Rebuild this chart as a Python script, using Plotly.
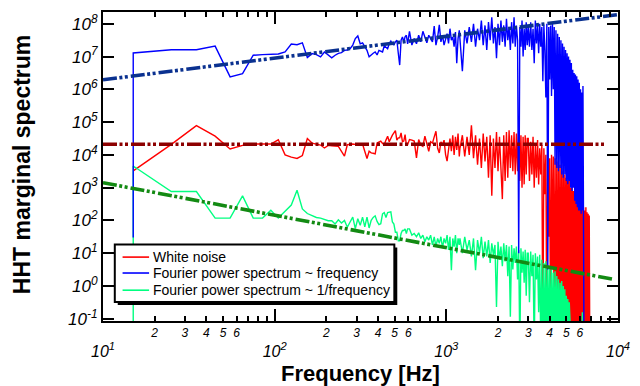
import plotly.graph_objects as go

# ---------------- data ----------------
# frequency grid (Hz) of the HHT marginal spectra
freq_hz = ([15] + list(range(15, 600, 10)) + list(range(610, 1200, 20))
           + list(range(1200, 3000, 40)) + list(range(3000, 7000, 50)))

# log10 of the marginal spectrum
white_noise_log10 = [
    3.51,
    # 15 .. 595 Hz
    3.51, 4.32, 4.89, 4.57, 4.18, 4.29, 4.33, 4.33, 4.33, 4.46,
    4.00, 3.93, 3.89, 3.98, 4.50, 4.36, 4.33, 4.30, 4.21, 4.29,
    4.28, 4.27, 4.26, 4.11, 3.96, 4.31, 4.33, 4.33, 4.32, 4.31,
    4.32, 4.33, 4.06, 3.89, 4.11, 4.06, 4.05, 4.03, 4.36, 4.40,
    4.42, 4.35, 4.31, 4.45, 4.57, 4.40, 4.52, 4.60, 4.67, 4.74,
    4.45, 4.52, 4.52, 4.67, 4.40, 4.42, 4.62, 4.30, 4.31,
    # 610 .. 1190 Hz
    4.47, 4.45, 4.42, 3.91, 4.47, 4.30, 4.26, 4.57, 4.30, 4.11,
    4.40, 4.36, 4.55, 4.72, 4.20, 4.06, 4.40, 4.31, 4.45, 4.01,
    3.81, 4.26, 4.50, 4.11, 4.60, 4.00, 4.55, 4.15, 4.65, 3.95,
    # 1200 .. 2960 Hz
    4.20, 4.60, 3.95, 4.55, 4.00, 4.90, 3.90, 4.60, 3.70, 4.50,
    3.60, 4.65, 3.80, 4.55, 3.30, 4.60, 2.75, 4.50, 3.60, 4.70,
    3.50, 4.55, 3.40, 2.65, 4.60, 3.20, 4.70, 3.30, 4.75, 3.60,
    4.60, 3.50, 4.70, 3.40, 4.65, 3.50, 4.75, 3.20, 4.60, 3.00,
    4.55, 3.10, 4.60, 3.40, 4.50,
    # 3000 .. 6850 Hz
    4.50, 3.20, 4.40, 3.40, 4.55, 3.00, 4.30, 3.30, 4.45, 3.10,
    4.20, 3.40, 4.30, -2.0, 4.20, 2.80, 4.00, -2.0, 4.10, 1.50,
    3.90, -2.0, 4.00, 0.50, 3.95, -2.0, 3.90, -2.0, 3.80, -2.0,
    3.85, -2.0, 3.70, -2.0, 3.60, -2.0, 3.50, -2.0, 3.40, -2.0,
    3.30, -2.0, 3.20, -2.0, 3.20, -2.0, 3.00, -2.0, 3.10, -2.0,
    2.90, -2.0, 2.95, -2.0, 2.80, -2.0, 2.90, -2.0, 2.70, -2.0,
    2.60, -2.0, 2.75, -2.0, 2.50, -2.0, 2.40, -2.0, 2.30, -2.0,
    2.40, -2.0, 2.25, -2.0, 2.20, -2.0, 2.15, -2.0,
]

fourier_freq_log10 = [
    1.48,
    # 15 .. 595 Hz
    7.11, 7.21, 7.21, 7.32, 6.38, 6.48, 7.04, 7.06, 7.07, 7.08,
    7.14, 7.38, 7.36, 7.42, 6.97, 7.09, 7.06, 6.99, 7.14, 7.06,
    6.96, 7.04, 7.10, 7.12, 7.19, 7.20, 7.24, 7.35, 7.55, 7.63,
    7.39, 7.42, 7.30, 7.19, 6.99, 7.06, 7.10, 7.14, 7.05, 7.19,
    7.16, 7.14, 7.33, 7.27, 7.24, 7.40, 7.47, 7.38, 7.36, 7.45,
    7.50, 7.10, 6.74, 7.50, 7.60, 7.45, 7.60, 7.65, 7.39,
    # 610 .. 1190 Hz
    7.77, 7.35, 7.55, 7.39, 7.65, 7.45, 7.77, 7.55, 7.42, 7.65,
    7.53, 7.45, 7.93, 7.35, 7.60, 7.97, 7.45, 7.65, 7.35, 7.55,
    7.70, 7.40, 7.85, 7.50, 7.60, 7.30, 7.75, 6.80, 7.55, 7.80,
    # 1200 .. 2960 Hz
    7.50, 6.55, 7.80, 7.40, 7.90, 7.45, 8.00, 7.30, 7.85, 7.50,
    8.10, 7.35, 7.95, 7.20, 8.05, 7.50, 8.20, 7.40, 7.90, 6.95,
    8.00, 7.35, 8.10, 7.45, 7.95, 7.30, 8.15, 7.50, 7.90, 7.20,
    8.05, 7.40, 8.20, 7.30, 7.95, 7.50, 1.00, 7.90, 7.30, 8.10,
    7.00, 7.85, 7.20, 8.05, 7.35,
    # 3000 .. 6350 Hz
    7.90, 7.30, 8.05, 7.20, 7.85, 6.80, 8.10, 7.40, 7.95, 7.10,
    8.00, 7.30, 7.90, 6.25, 7.95, 7.20, 5.75, 8.00, 0.50, 7.90,
    6.30, 7.95, 5.80, 8.05, 6.00, 7.90, 3.70, 7.80, 3.60, 7.70,
    3.50, 7.60, 3.60, 7.50, 3.40, 7.40, 3.30, 7.30, 3.40, 7.20,
    3.20, 7.10, 3.10, 7.00, 3.20, 6.90, 3.00, 6.80, 2.90, 6.60,
    3.00, 6.50, 2.60, 6.45, 2.50, 6.40, 2.40, 6.30, 2.30, 6.20,
    2.30, 6.00, 2.20, 5.90, 2.30, 6.10, 2.20, -3.0,
]

fourier_inv_log10 = [
    -3.0,
    # 15 .. 595 Hz
    3.66, 2.88, 2.88, 2.07, 2.07, 2.75, 2.07, 2.07, 2.31, 2.07,
    2.28, 2.47, 2.92, 2.35, 2.21, 2.14, 2.09, 2.07, 2.04, 1.99,
    1.99, 1.89, 2.02, 1.92, 2.00, 1.79, 1.95, 2.10, 1.75, 2.05,
    1.85, 2.10, 1.80, 2.10, 1.77, 2.00, 2.09, 2.14, 1.97, 1.87,
    1.90, 2.20, 2.24, 2.09, 2.24, 2.24, 2.26, 1.95, 1.89, 1.64,
    1.64, 1.38, 1.38, 1.60, 1.69, 1.69, 1.74, 1.60, 1.74,
    # 610 .. 1190 Hz
    1.74, 1.55, 1.60, 1.50, 1.62, 1.45, 1.55, 1.35, 1.50, 1.40,
    1.55, 1.25, 1.50, 1.20, 1.45, 1.30, 1.50, 1.15, 1.45, 1.30,
    1.55, 1.10, 1.50, 0.48, 1.45, 1.20, 1.55, 1.00, 1.45, 1.25,
    # 1200 .. 2960 Hz
    1.45, 1.00, 1.50, 1.10, 1.40, 0.90, 1.45, 0.48, 1.40, 1.00,
    1.50, 0.85, 1.35, 0.90, 1.40, 0.70, 1.30, 0.95, 1.25, -0.64,
    1.35, 0.80, 1.20, 0.60, 1.30, 0.75, 1.25, 0.30, 1.20, -0.94,
    1.25, 0.50, 1.15, 0.70, 1.20, 0.20, 1.10, -2.0, 1.15, 0.40,
    1.05, 0.10, 1.10, -0.30, 1.00,
    # 3000 .. 6250 Hz
    1.00, -0.50, 1.05, 0.30, 0.95, -2.0, 1.00, 0.20, 0.90, -0.80,
    0.95, -2.0, 0.80, -2.0, 0.70, -2.0, 0.75, -2.0, 0.60, -2.0,
    0.55, -2.0, 0.50, -2.0, 0.40, -2.0, 0.45, -2.0, 0.30, -2.0,
    0.20, -2.0, 0.10, -2.0, 0.15, -2.0, 0.00, -2.0, -0.10, -2.0,
    -0.30, -2.0, -0.40, -2.0, -0.50, -2.0, -2.0, -2.0, -2.0, -2.0,
    -2.0, -2.0, -2.0, -2.0, -2.0, -2.0, -2.0, -2.0, -2.0, -2.0,
    -2.0, -2.0, -2.0, -2.0, -0.80, -2.0,
]

# power-law fit lines (end points)
fit_white_freq = [10, 8400]
fit_white_vals = [2.1e4, 2.1e4]
fit_freq_freq = [10, 10000]
fit_freq_vals = [1.95e6, 1.9e8]
fit_inv_freq = [10, 9340]
fit_inv_vals = [1.41e3, 1.6]

series_names = ["White noise", "Fourier power spectrum ~ frequency",
                "Fourier power spectrum ~ 1/frequency"]
series_colors = ["#ff0000", "#0000ff", "#00ff80"]
fit_colors = ["#8c0000", "#0a3190", "#138a13"]

x_label_ticks = [m * d for d in (10, 100, 1000) for m in range(2, 7)]
x_label_text = [str(m) for d in (10, 100, 1000) for m in range(2, 7)]
x_unlabeled_ticks = [m * d for d in (10, 100, 1000) for m in range(7, 10)]
x_major_ticks = [10, 100, 1000, 10000]
x_major_text = ["10<sup>1</sup>", "10<sup>2</sup>", "10<sup>3</sup>", "10<sup>4</sup>"]
y_ticks = [10.0 ** k for k in range(-1, 9)]
y_text = ["10<sup>%d</sup>" % k for k in range(-1, 9)]

FONT = "Arial, Liberation Sans, Helvetica, sans-serif"

fig = go.Figure()

# draw order: red, green, blue
draw = [(0, white_noise_log10), (2, fourier_inv_log10), (1, fourier_freq_log10)]
for idx, vals in draw:
    fig.add_trace(go.Scatter(
        x=freq_hz[:len(vals)], y=[10.0 ** v for v in vals],
        mode="lines", name=series_names[idx], showlegend=False,
        line=dict(color=series_colors[idx], width=1.4),
        xaxis="x", yaxis="y",
    ))

dash = "14px,2.5px,3px,2.5px,3px,3px"
for fx, fy, col in [(fit_white_freq, fit_white_vals, fit_colors[0]),
                    (fit_freq_freq, fit_freq_vals, fit_colors[1]),
                    (fit_inv_freq, fit_inv_vals, fit_colors[2])]:
    fig.add_trace(go.Scatter(
        x=fx, y=fy, mode="lines", showlegend=False,
        line=dict(color=col, width=3.6, dash=dash),
        xaxis="x2", yaxis="y",
    ))

axis_common = dict(showgrid=False, zeroline=False, showline=True, linecolor="black",
                   linewidth=2, ticks="inside", tickcolor="black", mirror="ticks",
                   ticklabeloverflow="allow")

# hand-drawn legend box (paper coordinates), with a drop shadow
leg_x0, leg_x1, leg_y0, leg_y1 = 0.0229, 0.5657, 0.0611, 0.2476
sh_dx, sh_dy = 3 / 525, 3 / 311
shapes = [
    dict(type="rect", xref="paper", yref="paper", x0=leg_x0 + sh_dx, x1=leg_x1 + sh_dx,
         y0=leg_y0 - sh_dy, y1=leg_y1 - sh_dy, fillcolor="black",
         line=dict(color="black", width=0), layer="above"),
    dict(type="rect", xref="paper", yref="paper", x0=leg_x0, x1=leg_x1,
         y0=leg_y0, y1=leg_y1, fillcolor="white",
         line=dict(color="black", width=2), layer="above"),
]
annotations = []
legend_rows = [0.2068, 0.1553, 0.0997]
for i, yy in enumerate(legend_rows):
    shapes.append(dict(type="line", xref="paper", yref="paper", x0=0.038, x1=0.0895,
                       y0=yy, y1=yy, line=dict(color=series_colors[i], width=1.6),
                       layer="above"))
    annotations.append(dict(text=series_names[i], xref="paper", yref="paper",
                            x=0.0925, y=yy, xanchor="left", yanchor="middle",
                            showarrow=False,
                            font=dict(size=14, family=FONT, color="black")))

annotations += [
    dict(text="<b>Frequency [Hz]</b>", xref="paper", yref="paper",
         x=0.5, y=-0.1704, xanchor="center", yanchor="middle",
         showarrow=False, font=dict(size=22, family=FONT, color="black")),
    dict(text="<b>HHT marginal spectrum</b>", xref="paper", yref="paper",
         x=-0.158, y=0.5064, xanchor="center", yanchor="middle", textangle=-90,
         showarrow=False, font=dict(size=23, family=FONT, color="black")),
]

fig.update_layout(
    width=640, height=386,
    margin=dict(l=103, r=12, t=10, b=65),
    paper_bgcolor="white", plot_bgcolor="white",
    font=dict(family=FONT, color="black"),
    showlegend=False,
    xaxis=dict(type="log", range=[1, 4], tickvals=x_label_ticks, ticktext=x_label_text,
               ticklen=5, tickwidth=1.5,
               tickfont=dict(size=12, family=FONT, style="italic", color="black"),
               minor=dict(tickvals=x_unlabeled_ticks, ticks="inside", ticklen=5,
                          tickwidth=1.5, tickcolor="black", showgrid=False),
               **axis_common),
    xaxis2=dict(type="log", range=[1, 4], overlaying="x", anchor="y", side="bottom",
                tickvals=x_major_ticks, ticktext=x_major_text, ticklen=12, tickwidth=2,
                ticklabelstandoff=15,
                tickfont=dict(size=16, family=FONT, style="italic", color="black"),
                **axis_common),
    yaxis=dict(type="log", range=[-1.07, 8.36], tickvals=y_ticks, ticktext=y_text,
               ticklen=11, tickwidth=2,
               tickfont=dict(size=17, family=FONT, style="italic", color="black"),
               **axis_common),
    shapes=shapes,
    annotations=annotations,
)

fig.write_html("out.html", config={"displayModeBar": False},
               post_script="document.body.style.margin='0px';")
